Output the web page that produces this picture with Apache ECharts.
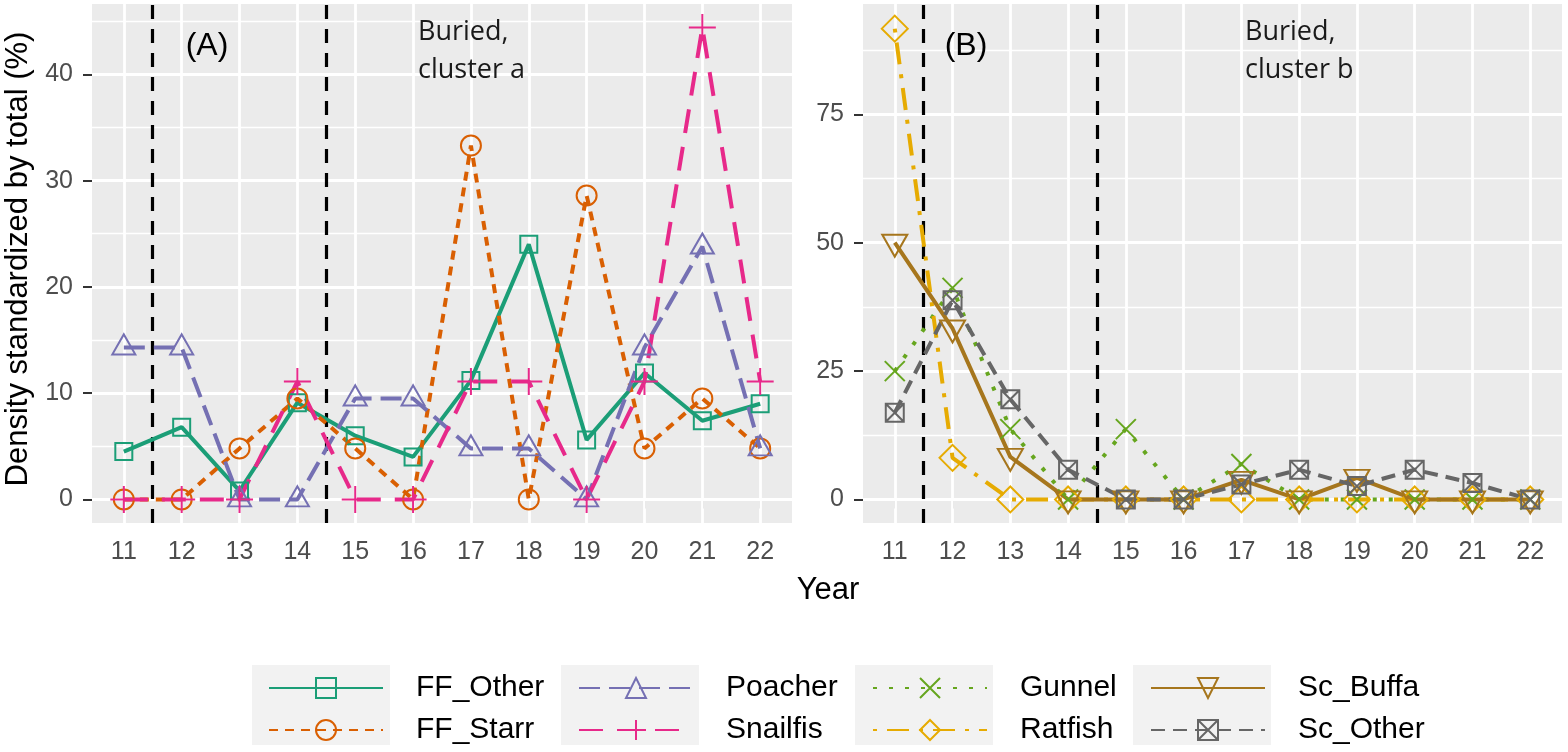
<!DOCTYPE html>
<html>
<head>
<meta charset="utf-8">
<title>Density standardized by total</title>
<script src="https://cdn.jsdelivr.net/npm/echarts@6/dist/echarts.min.js"></script>
<style>
  html, body { margin: 0; padding: 0; background: #fff; }
  #chart { width: 1568px; height: 752px; }
</style>
</head>
<body>
<div id="chart"></div>
<script>
// years on the x axis
const years = [11, 12, 13, 14, 15, 16, 17, 18, 19, 20, 21, 22];
const xTicks = [11, 12, 13, 14, 15, 16, 17, 18, 19, 20, 21, 22];
const breakYears = [11.5, 14.5];

const yTicksA = [0, 10, 20, 30, 40];
const yMinorA = [5, 15, 25, 35, 45];
const yTicksB = [0, 25, 50, 75];
const yMinorB = [12.5, 37.5, 62.5, 87.5];

// panel A
const ffOther = [4.5, 6.8, 0.8, 9.1, 6.0, 4.0, 11.2, 24.0, 5.6, 11.9, 7.4, 9.0];
const ffStarr = [0, 0, 4.8, 9.5, 4.8, 0, 33.3, 0, 28.6, 4.8, 9.5, 4.8];
const poacher = [14.3, 14.3, 0, 0, 9.5, 9.5, 4.8, 4.8, 0, 14.3, 23.8, 4.8];
const snailfis = [0, 0, 0, 11.1, 0, 0, 11.1, 11.1, 0, 11.1, 44.4, 11.1];

// panel B
const gunnel = [25.0, 41.2, 13.7, 0, 13.7, 0, 6.9, 0, 0, 0, 0, 0];
const ratfish = [91.7, 8.1, 0, 0, 0, 0, 0, 0, 0, 0, 0, 0];
const scBuffa = [50.0, 33.3, 8.3, 0, 0, 0, 3.8, 0, 4.2, 0, 0, 0];
const scOther = [16.9, 38.8, 19.5, 5.8, 0, 0, 2.9, 5.8, 2.6, 5.8, 3.2, 0];

const FONT = '"Liberation Sans", Arial, sans-serif';

// open ggplot-like shapes
const SHAPES = {
  square: 'rect',
  circle: 'circle',
  triangle: 'path://M5,0L10,8.66L0,8.66Z',
  plus: 'path://M0,5L10,5M5,0L5,10',
  cross: 'path://M0,0L10,10M10,0L0,10',
  diamond: 'diamond',
  down: 'path://M0,0L10,0L5,8.66Z',
  boxX: 'path://M0,0L10,0L10,10L0,10ZM0,0L10,10M10,0L0,10'
};

function lineSeries(name, values, color, shape, size, dash, idx, offset) {
  return {
    name: name,
    type: 'line',
    xAxisIndex: idx,
    yAxisIndex: idx,
    data: years.map((y, i) => [y, values[i]]),
    symbol: SHAPES[shape],
    symbolSize: size,
    symbolOffset: offset || [0, 0],
    showAllSymbol: true,
    lineStyle: { color: color, width: 4, type: dash },
    itemStyle: { color: 'rgba(0,0,0,0)', borderColor: color, borderWidth: 2 },
    emphasis: { disabled: true },
    silent: true,
    animation: false,
    z: 3
  };
}

// white grid lines and black dashed year breaks, drawn under the data
function backgroundSeries(idx, yMajor, yMinor) {
  const white = (w) => ({ color: '#ffffff', width: w, type: 'solid' });
  const lines = []
    .concat(yMinor.map(v => ({ yAxis: v, lineStyle: white(1.4) })))
    .concat(yMajor.map(v => ({ yAxis: v, lineStyle: white(2.8) })))
    .concat(xTicks.map(v => ({ xAxis: v, lineStyle: white(2.8) })));
  return [{
    type: 'line', xAxisIndex: idx, yAxisIndex: idx, data: [], silent: true, z: 1,
    markLine: { z: 1, symbol: 'none', silent: true, animation: false, label: { show: false }, data: lines }
  }, {
    type: 'line', xAxisIndex: idx, yAxisIndex: idx, data: [], silent: true, z: 2,
    markLine: {
      z: 2, symbol: 'none', silent: true, animation: false, label: { show: false },
      data: breakYears.map(v => ({ xAxis: v, lineStyle: { color: '#000000', width: 3.2, type: [14, 10] } }))
    }
  }];
}

function xAxisCfg(idx) {
  return {
    type: 'value', gridIndex: idx, min: 10.45, max: 22.55,
    axisLine: { show: false },
    splitLine: { show: false },
    axisTick: { show: true, customValues: xTicks, length: 9, lineStyle: { color: '#333333', width: 2 } },
    axisLabel: { customValues: xTicks, margin: 17, color: '#4d4d4d', fontSize: 25, fontFamily: FONT }
  };
}

function yAxisCfg(idx, min, max, ticks) {
  return {
    type: 'value', gridIndex: idx, min: min, max: max,
    axisLine: { show: false },
    splitLine: { show: false },
    axisTick: { show: true, customValues: ticks, length: 9, lineStyle: { color: '#333333', width: 2 } },
    axisLabel: { customValues: ticks, margin: 19, color: '#4d4d4d', fontSize: 25, fontFamily: FONT }
  };
}

function legendCfg(left, names) {
  return {
    orient: 'vertical', left: left, top: 668,
    itemWidth: 114, itemHeight: 25, itemGap: 12,
    selectedMode: false,
    data: names,
    textStyle: { fontSize: 30, lineHeight: 30, color: '#000000', fontFamily: FONT, padding: [0, 0, 0, 28] }
  };
}

function keyBox(x) {
  return { type: 'rect', shape: { x: x, y: 665, width: 138, height: 80 }, style: { fill: '#f2f2f2' }, silent: true, z: 0 };
}

function note(x, y, text, size, family, extra) {
  return {
    type: 'text', x: x, y: y, silent: true, z: 10,
    style: Object.assign({ text: text, fill: '#1a1a1a', font: size + 'px ' + family }, extra || {})
  };
}

const chart = echarts.init(document.getElementById('chart'));

chart.setOption({
  backgroundColor: '#ffffff',
  animation: false,
  grid: [
    { left: 92, top: 4, width: 700, height: 519, show: true, backgroundColor: '#ebebeb', borderWidth: 0 },
    { left: 863, top: 4, width: 699, height: 519, show: true, backgroundColor: '#ebebeb', borderWidth: 0 }
  ],
  xAxis: [xAxisCfg(0), xAxisCfg(1)],
  yAxis: [yAxisCfg(0, -2.22, 46.62, yTicksA), yAxisCfg(1, -4.59, 96.5, yTicksB)],
  legend: [
    legendCfg(263, ['FF_Other', 'FF_Starr']),
    legendCfg(573, ['Poacher', 'Snailfis']),
    legendCfg(867, ['Gunnel', 'Ratfish']),
    legendCfg(1145, ['Sc_Buffa', 'Sc_Other'])
  ],
  graphic: [
    keyBox(252), keyBox(561), keyBox(855), keyBox(1133),
    note(207, 46, '(A)', 32, FONT, { align: 'center', verticalAlign: 'middle', fill: '#000000' }),
    note(966, 46, '(B)', 32, FONT, { align: 'center', verticalAlign: 'middle', fill: '#000000' }),
    note(418, 13, 'Buried,\ncluster a', 27, '"Open Sans", sans-serif', { verticalAlign: 'top', lineHeight: 38 }),
    note(1245, 13, 'Buried,\ncluster b', 27, '"Open Sans", sans-serif', { verticalAlign: 'top', lineHeight: 38 }),
    note(828, 590, 'Year', 31, FONT, { align: 'center', verticalAlign: 'middle', fill: '#000000' }),
    {
      type: 'text', x: 18, y: 259, rotation: Math.PI / 2, silent: true,
      style: { text: 'Density standardized by total (%)', fill: '#000000', font: '31px ' + FONT, align: 'center', verticalAlign: 'middle' }
    }
  ],
  series: [].concat(
    backgroundSeries(0, yTicksA, yMinorA),
    backgroundSeries(1, yTicksB, yMinorB),
    [
      lineSeries('FF_Other', ffOther, '#1b9e77', 'square', 17, 'solid', 0),
      lineSeries('FF_Starr', ffStarr, '#d95f02', 'circle', 20, [9, 7], 0),
      lineSeries('Poacher', poacher, '#7570b3', 'triangle', [23, 20], [21, 9], 0, [0, -3]),
      lineSeries('Snailfis', snailfis, '#e7298a', 'plus', 27, [24, 14], 0),
      lineSeries('Gunnel', gunnel, '#66a61e', 'cross', 20, [4, 12], 1),
      lineSeries('Ratfish', ratfish, '#e6ab02', 'diamond', 26, [4, 10, 22, 10], 1),
      lineSeries('Sc_Buffa', scBuffa, '#a6761d', 'down', [25, 22], 'solid', 1, [0, 3]),
      lineSeries('Sc_Other', scOther, '#666666', 'boxX', 18, [14, 8], 1)
    ]
  )
});

window.addEventListener('resize', () => chart.resize());
</script>
</body>
</html>
